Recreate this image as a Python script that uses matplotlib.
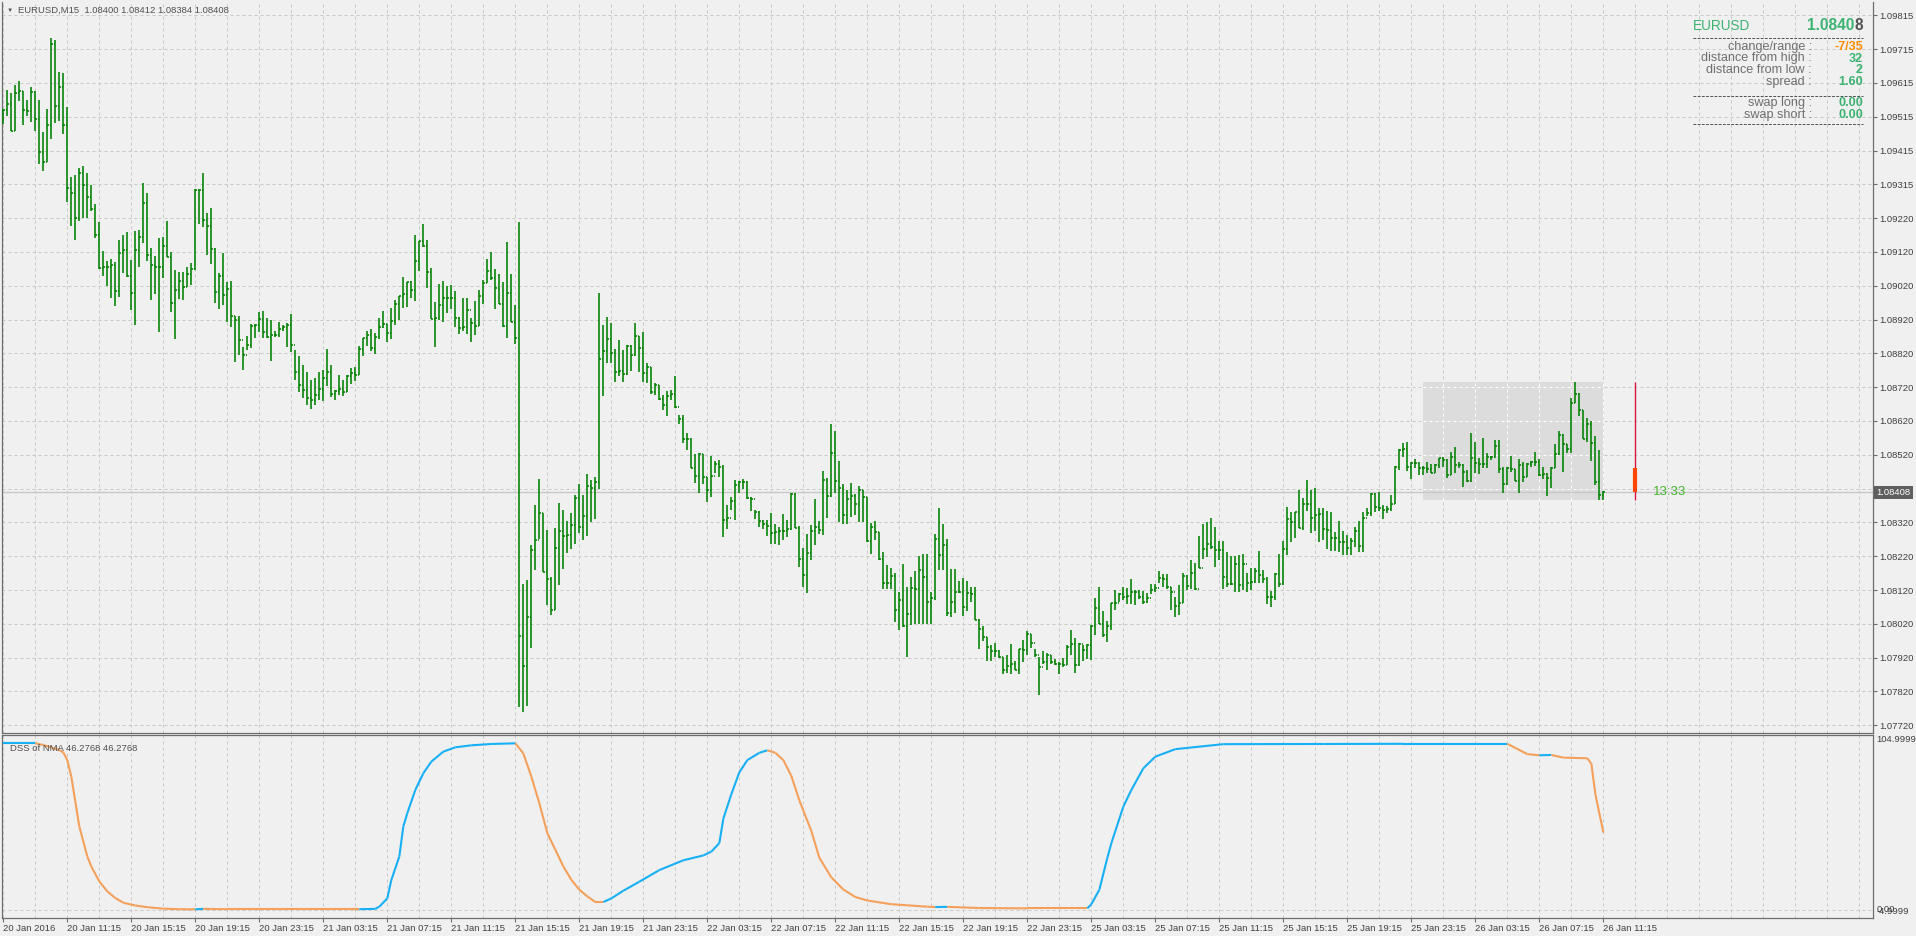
#EURUSD M15 bar chart with a DSS of NMA sub window, MetaTrader style
import matplotlib
matplotlib.use('Agg')
import matplotlib.pyplot as plt
import matplotlib.transforms as mtransforms
from matplotlib.collections import LineCollection
from matplotlib.patches import Rectangle
from matplotlib.lines import Line2D
import numpy as np

plt.rcParams['font.family'] = ['Liberation Sans', 'DejaVu Sans']

#bar highs, lows and closes, one per M15 bar
high = [
    1.09537, 1.09594, 1.09587, 1.09609, 1.09621, 1.09593, 1.09565, 1.09605, 1.09591, 1.09565,
    1.09470, 1.09538, 1.09748, 1.09742, 1.09648, 1.09645, 1.09544, 1.09338, 1.09343, 1.09364,
    1.09370, 1.09349, 1.09314, 1.09259, 1.09205, 1.09119, 1.09091, 1.09095, 1.09086, 1.09151,
    1.09166, 1.09175, 1.09093, 1.09178, 1.09181, 1.09320, 1.09290, 1.09128, 1.09104, 1.09158,
    1.09161, 1.09208, 1.09117, 1.09063, 1.09058, 1.09058, 1.09073, 1.09085, 1.09303, 1.09301,
    1.09349, 1.09233, 1.09246, 1.09127, 1.09056, 1.09114, 1.09029, 1.09030, 1.08928, 1.08928,
    1.08837, 1.08870, 1.08905, 1.08903, 1.08940, 1.08943, 1.08922, 1.08916, 1.08884, 1.08910,
    1.08900, 1.08907, 1.08933, 1.08827, 1.08810, 1.08783, 1.08762, 1.08739, 1.08745, 1.08762,
    1.08769, 1.08830, 1.08783, 1.08709, 1.08754, 1.08738, 1.08754, 1.08775, 1.08777, 1.08840,
    1.08863, 1.08884, 1.08889, 1.08877, 1.08922, 1.08943, 1.08904, 1.08950, 1.08975, 1.08986,
    1.09043, 1.09028, 1.09031, 1.09167, 1.09148, 1.09198, 1.09152, 1.09068, 1.08970, 1.09022,
    1.09031, 1.09017, 1.09019, 1.09001, 1.08924, 1.08981, 1.08981, 1.08921, 1.08971, 1.09004,
    1.09033, 1.09097, 1.09118, 1.09067, 1.09052, 1.09027, 1.09146, 1.09052, 1.08960, 1.09205,
    1.08137, 1.08150, 1.08253, 1.08371, 1.08448, 1.08346, 1.08295, 1.08156, 1.08301, 1.08377,
    1.08354, 1.08323, 1.08347, 1.08398, 1.08432, 1.08399, 1.08462, 1.08444, 1.08453, 1.08996,
    1.08901, 1.08924, 1.08908, 1.08829, 1.08858, 1.08828, 1.08842, 1.08842, 1.08908, 1.08870,
    1.08880, 1.08790, 1.08776, 1.08731, 1.08724, 1.08694, 1.08706, 1.08709, 1.08751, 1.08635,
    1.08635, 1.08581, 1.08569, 1.08520, 1.08522, 1.08520, 1.08453, 1.08514, 1.08500, 1.08502,
    1.08487, 1.08370, 1.08394, 1.08443, 1.08441, 1.08448, 1.08441, 1.08394, 1.08355, 1.08352,
    1.08325, 1.08325, 1.08345, 1.08315, 1.08305, 1.08343, 1.08325, 1.08406, 1.08404, 1.08307,
    1.08244, 1.08284, 1.08310, 1.08387, 1.08322, 1.08471, 1.08450, 1.08610, 1.08588, 1.08500,
    1.08431, 1.08414, 1.08436, 1.08402, 1.08425, 1.08414, 1.08394, 1.08318, 1.08322, 1.08291,
    1.08232, 1.08192, 1.08185, 1.08168, 1.08114, 1.08195, 1.08128, 1.08156, 1.08176, 1.08219,
    1.08225, 1.08225, 1.08112, 1.08283, 1.08360, 1.08313, 1.08269, 1.08181, 1.08180, 1.08145,
    1.08153, 1.08146, 1.08128, 1.08128, 1.08032, 1.08012, 1.07981, 1.07956, 1.07963, 1.07941,
    1.07922, 1.07927, 1.07961, 1.07910, 1.07946, 1.07971, 1.07997, 1.07989, 1.07946, 1.07920,
    1.07938, 1.07933, 1.07927, 1.07914, 1.07907, 1.07917, 1.07956, 1.08000, 1.07976, 1.07963,
    1.07956, 1.07961, 1.08017, 1.08094, 1.08128, 1.08057, 1.08027, 1.08081, 1.08118, 1.08109,
    1.08128, 1.08126, 1.08152, 1.08118, 1.08120, 1.08115, 1.08109, 1.08138, 1.08138, 1.08175,
    1.08165, 1.08165, 1.08128, 1.08099, 1.08133, 1.08168, 1.08163, 1.08209, 1.08199, 1.08278,
    1.08313, 1.08320, 1.08333, 1.08305, 1.08264, 1.08264, 1.08230, 1.08220, 1.08220, 1.08222,
    1.08225, 1.08168, 1.08185, 1.08185, 1.08235, 1.08179, 1.08156, 1.08116, 1.08170, 1.08224,
    1.08264, 1.08363, 1.08350, 1.08350, 1.08414, 1.08390, 1.08444, 1.08414, 1.08419, 1.08360,
    1.08360, 1.08352, 1.08350, 1.08291, 1.08324, 1.08294, 1.08280, 1.08274, 1.08306, 1.08324,
    1.08350, 1.08362, 1.08406, 1.08404, 1.08409, 1.08370, 1.08368, 1.08400, 1.08485, 1.08535,
    1.08552, 1.08557, 1.08498, 1.08505, 1.08498, 1.08486, 1.08498, 1.08492, 1.08491, 1.08508,
    1.08511, 1.08506, 1.08527, 1.08540, 1.08498, 1.08490, 1.08473, 1.08582, 1.08555, 1.08508,
    1.08569, 1.08523, 1.08516, 1.08562, 1.08562, 1.08482, 1.08481, 1.08516, 1.08475, 1.08505,
    1.08498, 1.08495, 1.08500, 1.08525, 1.08506, 1.08481, 1.08464, 1.08481, 1.08549, 1.08587,
    1.08579, 1.08549, 1.08685, 1.08734, 1.08700, 1.08650, 1.08628, 1.08618, 1.08574, 1.08531,
    1.08412]

low = [
    1.09493, 1.09519, 1.09475, 1.09475, 1.09563, 1.09492, 1.09519, 1.09501, 1.09474, 1.09377,
    1.09356, 1.09381, 1.09449, 1.09498, 1.09504, 1.09465, 1.09265, 1.09194, 1.09153, 1.09209,
    1.09218, 1.09217, 1.09237, 1.09158, 1.09065, 1.09046, 1.09017, 1.08981, 1.08958, 1.08984,
    1.09055, 1.09043, 1.08946, 1.08900, 1.09073, 1.09142, 1.09091, 1.08976, 1.08994, 1.08881,
    1.09041, 1.09102, 1.08939, 1.08861, 1.08979, 1.08976, 1.09014, 1.09019, 1.09063, 1.09200,
    1.09191, 1.09107, 1.09082, 1.08967, 1.08949, 1.08959, 1.08910, 1.08896, 1.08792, 1.08813,
    1.08768, 1.08827, 1.08832, 1.08862, 1.08881, 1.08863, 1.08864, 1.08795, 1.08866, 1.08867,
    1.08884, 1.08837, 1.08821, 1.08738, 1.08703, 1.08685, 1.08665, 1.08653, 1.08665, 1.08679,
    1.08676, 1.08721, 1.08688, 1.08679, 1.08694, 1.08693, 1.08702, 1.08726, 1.08737, 1.08753,
    1.08811, 1.08840, 1.08823, 1.08817, 1.08860, 1.08892, 1.08851, 1.08859, 1.08900, 1.08915,
    1.08951, 1.08955, 1.08982, 1.08973, 1.09061, 1.09132, 1.09009, 1.08919, 1.08837, 1.08915,
    1.08911, 1.08938, 1.08947, 1.08894, 1.08875, 1.08883, 1.08874, 1.08850, 1.08873, 1.08897,
    1.08962, 1.09024, 1.09035, 1.08947, 1.08962, 1.08896, 1.08864, 1.08910, 1.08844, 1.07775,
    1.07759, 1.07777, 1.07947, 1.08177, 1.08269, 1.08171, 1.08075, 1.08044, 1.08059, 1.08134,
    1.08181, 1.08228, 1.08240, 1.08254, 1.08286, 1.08266, 1.08278, 1.08319, 1.08330, 1.08417,
    1.08693, 1.08788, 1.08790, 1.08733, 1.08752, 1.08734, 1.08754, 1.08764, 1.08809, 1.08761,
    1.08734, 1.08731, 1.08699, 1.08696, 1.08679, 1.08650, 1.08633, 1.08679, 1.08655, 1.08610,
    1.08553, 1.08532, 1.08478, 1.08435, 1.08406, 1.08431, 1.08379, 1.08394, 1.08463, 1.08453,
    1.08276, 1.08299, 1.08355, 1.08325, 1.08404, 1.08417, 1.08389, 1.08352, 1.08330, 1.08305,
    1.08299, 1.08279, 1.08256, 1.08256, 1.08253, 1.08266, 1.08276, 1.08296, 1.08303, 1.08187,
    1.08128, 1.08111, 1.08207, 1.08251, 1.08284, 1.08281, 1.08332, 1.08394, 1.08406, 1.08320,
    1.08315, 1.08315, 1.08335, 1.08340, 1.08320, 1.08320, 1.08261, 1.08225, 1.08266, 1.08207,
    1.08123, 1.08123, 1.08123, 1.08025, 1.08002, 1.08010, 1.07922, 1.08015, 1.08020, 1.08020,
    1.08020, 1.08020, 1.08020, 1.08089, 1.08178, 1.08179, 1.08042, 1.08038, 1.08050, 1.08109,
    1.08042, 1.08057, 1.08084, 1.08030, 1.07946, 1.07968, 1.07910, 1.07910, 1.07922, 1.07917,
    1.07870, 1.07874, 1.07872, 1.07882, 1.07872, 1.07907, 1.07927, 1.07948, 1.07922, 1.07808,
    1.07900, 1.07882, 1.07902, 1.07897, 1.07872, 1.07892, 1.07897, 1.07927, 1.07874, 1.07894,
    1.07910, 1.07914, 1.07912, 1.07986, 1.08020, 1.07981, 1.07966, 1.08000, 1.08061, 1.08084,
    1.08089, 1.08079, 1.08079, 1.08076, 1.08092, 1.08077, 1.08081, 1.08107, 1.08114, 1.08140,
    1.08128, 1.08123, 1.08059, 1.08038, 1.08045, 1.08082, 1.08118, 1.08121, 1.08118, 1.08183,
    1.08210, 1.08217, 1.08240, 1.08187, 1.08207, 1.08123, 1.08128, 1.08133, 1.08114, 1.08112,
    1.08118, 1.08114, 1.08120, 1.08141, 1.08141, 1.08141, 1.08079, 1.08069, 1.08089, 1.08129,
    1.08134, 1.08223, 1.08262, 1.08272, 1.08301, 1.08296, 1.08353, 1.08288, 1.08293, 1.08262,
    1.08267, 1.08240, 1.08234, 1.08235, 1.08232, 1.08222, 1.08222, 1.08222, 1.08247, 1.08232,
    1.08232, 1.08336, 1.08336, 1.08350, 1.08352, 1.08328, 1.08345, 1.08352, 1.08373, 1.08473,
    1.08512, 1.08470, 1.08447, 1.08478, 1.08459, 1.08459, 1.08463, 1.08464, 1.08464, 1.08478,
    1.08483, 1.08449, 1.08457, 1.08464, 1.08478, 1.08424, 1.08439, 1.08439, 1.08464, 1.08462,
    1.08478, 1.08478, 1.08503, 1.08510, 1.08464, 1.08406, 1.08429, 1.08468, 1.08442, 1.08404,
    1.08439, 1.08454, 1.08483, 1.08486, 1.08456, 1.08447, 1.08397, 1.08419, 1.08478, 1.08518,
    1.08468, 1.08523, 1.08523, 1.08670, 1.08634, 1.08564, 1.08557, 1.08500, 1.08429, 1.08385,
    1.08384]

close = [
    1.09535, 1.09552, 1.09475, 1.09585, 1.09593, 1.09537, 1.09532, 1.09588, 1.09508, 1.09413,
    1.09381, 1.09490, 1.09732, 1.09547, 1.09605, 1.09490, 1.09307, 1.09292, 1.09218, 1.09351,
    1.09313, 1.09280, 1.09245, 1.09168, 1.09068, 1.09071, 1.09073, 1.09078, 1.09003, 1.09115,
    1.09122, 1.09045, 1.08996, 1.09122, 1.09161, 1.09261, 1.09108, 1.09077, 1.09073, 1.09071,
    1.09134, 1.09102, 1.08965, 1.09004, 1.09031, 1.09013, 1.09053, 1.09065, 1.09301, 1.09300,
    1.09211, 1.09194, 1.09125, 1.09000, 1.09047, 1.08991, 1.09006, 1.08928, 1.08916, 1.08857,
    1.08813, 1.08842, 1.08898, 1.08901, 1.08919, 1.08880, 1.08867, 1.08871, 1.08871, 1.08888,
    1.08895, 1.08900, 1.08842, 1.08762, 1.08724, 1.08709, 1.08685, 1.08679, 1.08694, 1.08711,
    1.08744, 1.08762, 1.08698, 1.08706, 1.08712, 1.08703, 1.08751, 1.08759, 1.08754, 1.08830,
    1.08862, 1.08871, 1.08834, 1.08867, 1.08895, 1.08903, 1.08878, 1.08912, 1.08963, 1.08986,
    1.08992, 1.09028, 1.09005, 1.09091, 1.09148, 1.09134, 1.09057, 1.08919, 1.08921, 1.08960,
    1.08982, 1.08981, 1.08980, 1.08922, 1.08892, 1.08895, 1.08945, 1.08908, 1.08898, 1.08988,
    1.09024, 1.09062, 1.09039, 1.09009, 1.08962, 1.08897, 1.08995, 1.08910, 1.08863, 1.07983,
    1.07896, 1.08040, 1.08238, 1.08267, 1.08346, 1.08171, 1.08152, 1.08060, 1.08242, 1.08293,
    1.08279, 1.08281, 1.08312, 1.08390, 1.08306, 1.08338, 1.08427, 1.08419, 1.08438, 1.08802,
    1.08823, 1.08861, 1.08819, 1.08763, 1.08765, 1.08757, 1.08840, 1.08813, 1.08868, 1.08833,
    1.08759, 1.08777, 1.08704, 1.08724, 1.08684, 1.08665, 1.08691, 1.08699, 1.08658, 1.08625,
    1.08565, 1.08565, 1.08478, 1.08456, 1.08520, 1.08453, 1.08414, 1.08455, 1.08490, 1.08483,
    1.08325, 1.08332, 1.08381, 1.08430, 1.08438, 1.08438, 1.08392, 1.08389, 1.08350, 1.08323,
    1.08313, 1.08307, 1.08288, 1.08289, 1.08293, 1.08293, 1.08298, 1.08401, 1.08303, 1.08212,
    1.08162, 1.08227, 1.08293, 1.08305, 1.08296, 1.08443, 1.08396, 1.08524, 1.08440, 1.08419,
    1.08340, 1.08389, 1.08396, 1.08372, 1.08414, 1.08394, 1.08264, 1.08305, 1.08291, 1.08212,
    1.08140, 1.08140, 1.08161, 1.08061, 1.08091, 1.08012, 1.08047, 1.08125, 1.08123, 1.08178,
    1.08158, 1.08084, 1.08096, 1.08271, 1.08222, 1.08253, 1.08052, 1.08084, 1.08112, 1.08112,
    1.08069, 1.08109, 1.08106, 1.08030, 1.08005, 1.07981, 1.07951, 1.07939, 1.07938, 1.07922,
    1.07882, 1.07894, 1.07902, 1.07882, 1.07946, 1.07941, 1.07988, 1.07963, 1.07927, 1.07892,
    1.07907, 1.07927, 1.07907, 1.07902, 1.07902, 1.07899, 1.07951, 1.07961, 1.07899, 1.07959,
    1.07941, 1.07956, 1.08013, 1.08067, 1.08020, 1.07986, 1.08012, 1.08081, 1.08081, 1.08107,
    1.08099, 1.08101, 1.08112, 1.08114, 1.08099, 1.08084, 1.08094, 1.08118, 1.08125, 1.08153,
    1.08152, 1.08128, 1.08112, 1.08071, 1.08081, 1.08160, 1.08131, 1.08168, 1.08123, 1.08184,
    1.08241, 1.08256, 1.08246, 1.08237, 1.08237, 1.08158, 1.08136, 1.08136, 1.08197, 1.08135,
    1.08197, 1.08141, 1.08143, 1.08175, 1.08163, 1.08151, 1.08099, 1.08099, 1.08165, 1.08137,
    1.08241, 1.08330, 1.08321, 1.08350, 1.08301, 1.08373, 1.08373, 1.08333, 1.08341, 1.08342,
    1.08299, 1.08296, 1.08272, 1.08272, 1.08262, 1.08262, 1.08244, 1.08264, 1.08293, 1.08249,
    1.08333, 1.08345, 1.08402, 1.08365, 1.08362, 1.08355, 1.08358, 1.08373, 1.08483, 1.08532,
    1.08535, 1.08481, 1.08493, 1.08493, 1.08480, 1.08478, 1.08477, 1.08465, 1.08488, 1.08508,
    1.08503, 1.08459, 1.08513, 1.08488, 1.08488, 1.08468, 1.08442, 1.08508, 1.08493, 1.08492,
    1.08490, 1.08513, 1.08512, 1.08545, 1.08475, 1.08432, 1.08480, 1.08476, 1.08442, 1.08488,
    1.08454, 1.08490, 1.08498, 1.08496, 1.08459, 1.08462, 1.08449, 1.08480, 1.08520, 1.08577,
    1.08549, 1.08534, 1.08670, 1.08697, 1.08650, 1.08564, 1.08608, 1.08554, 1.08439, 1.08400,
    1.08408]

first_open = 1.09537
day_first_bar = 355      # first bar of 26 Jan

#DSS of NMA, sampled along the bars
dss_bar = [0, 4, 8, 10, 12, 14, 15, 16, 17, 18, 19, 21, 22, 24, 26, 28, 30, 33, 36, 40,
           44, 48, 50, 52, 56, 62, 70, 80, 89, 93, 94, 96, 97, 99, 100, 101, 103, 105, 107, 110,
           113, 117, 122, 128, 130, 132, 134, 136, 138, 140, 142, 144, 146, 148, 150, 152, 155, 159, 164, 170,
           175, 177, 179, 180, 182, 184, 186, 189, 191, 193, 195, 197, 199, 202, 204, 207, 210, 213, 216, 222,
           231, 233, 236, 244, 256, 271, 272, 274, 276, 277, 280, 282, 285, 288, 293, 305, 330, 350, 376, 378,
           381, 384, 387, 390, 396, 397, 398, 400]
dss_val = [100, 100, 100, 99.0, 97.5, 96.0, 94.5, 90, 80, 65, 50, 32, 26, 17, 11, 7, 4.2, 2.5, 1.5, 0.6,
           0.3, 0.2, 0.5, 0.4, 0.3, 0.3, 0.3, 0.3, 0.3, 0.5, 1.8, 6.8, 17.8, 32, 50, 58, 72, 82, 89, 95,
           97.6, 98.8, 99.6, 100, 94, 80, 64, 46, 36, 26, 18, 12, 8, 4.6, 4.6, 6.8, 11.4, 16.8, 23.8, 29.7,
           32.6, 34.9, 40, 54.7, 69.4, 82.6, 89.9, 94.3, 95.8, 94.3, 89.9, 80.4, 65.7, 47.3, 31.2, 19.4, 12.1, 7.6, 5.5, 3.3,
           1.8, 1.6, 1.7, 1.0, 0.8, 0.8, 3.3, 12, 31.2, 40, 62, 72, 85, 92, 96.5, 99.5, 99.6, 99.7, 99.7, 97.2,
           93.5, 92.8, 93.0, 91.4, 91.0, 87.7, 69.4, 46.2768]

price_labels = ['1.09815', '1.09715', '1.09615', '1.09515', '1.09415', '1.09315', '1.09220', '1.09120',
                '1.09020', '1.08920', '1.08820', '1.08720', '1.08620', '1.08520', '1.08420', '1.08320',
                '1.08220', '1.08120', '1.08020', '1.07920', '1.07820', '1.07720']
time_labels = ['20 Jan 2016', '20 Jan 11:15', '20 Jan 15:15', '20 Jan 19:15', '20 Jan 23:15',
               '21 Jan 03:15', '21 Jan 07:15', '21 Jan 11:15', '21 Jan 15:15', '21 Jan 19:15',
               '21 Jan 23:15', '22 Jan 03:15', '22 Jan 07:15', '22 Jan 11:15', '22 Jan 15:15',
               '22 Jan 19:15', '22 Jan 23:15', '25 Jan 03:15', '25 Jan 07:15', '25 Jan 11:15',
               '25 Jan 15:15', '25 Jan 19:15', '25 Jan 23:15', '26 Jan 03:15', '26 Jan 07:15',
               '26 Jan 11:15']

#info panel
info_rows = [('change/range :', '-7/35', '#ff8c00'),
             ('distance from high :', '32', '#3cb371'),
             ('distance from low :', '2', '#3cb371'),
             ('spread :', '1.60', '#3cb371')]
swap_rows = [('swap long :', '0.00', '#3cb371'),
             ('swap short :', '0.00', '#3cb371')]
time_left = '13:33'

BG = '#f0f0f0'
GRID = '#c8c8c8'
BAR = '#008000'
AXC = '#6e6e6e'
TXT = '#404040'
W, H = 1916, 936


def rect(l, t, r, b):
    return [l / W, 1 - b / H, (r - l) / W, (b - t) / H]


def ftext(x, y, s, **kw):
    fig.text(x / W, 1 - y / H, s, **kw)


def fline(x0, x1, y):
    fig.add_artist(Line2D([x0 / W, x1 / W], [1 - y / H, 1 - y / H], transform=fig.transFigure,
                          color='#555555', lw=0.72, ls=(0, (2.8, 1.4))))


fig = plt.figure(figsize=(W / 100, H / 100), dpi=100, facecolor=BG)
ax = fig.add_axes(rect(2, 2, 1873, 733))
ax2 = fig.add_axes(rect(2, 735, 1873, 918))

n = min(len(high), len(low), len(close))
idx = np.arange(n)
hi = np.array(high[:n])
lo = np.array(low[:n])
cl = np.array(close[:n])
op = np.concatenate([[first_open], cl[:-1]])
xmin, xmax = -0.325, 467.4

# ---- price window ----
ax.set_facecolor(BG)
ax.set_xlim(xmin, xmax)
ax.set_ylim(1.07697, 1.098545)
ax.set_axisbelow(True)
ax.set_xticks(np.arange(0, 468, 8))
ax.tick_params(axis='x', length=0, labelbottom=False)
price_ticks = np.linspace(1.09815, 1.07720, len(price_labels))
ax.set_yticks(price_ticks)
ax.set_yticklabels(price_labels)
ax.yaxis.tick_right()
ax.tick_params(axis='y', length=3, width=0.8, color=AXC, pad=1.5, labelsize=6.8, labelcolor=TXT)
ax.grid(True, color=GRID, ls=(0, (3, 3)), lw=0.72)
for s in ['left', 'right', 'bottom']:
    ax.spines[s].set_color(AXC)
    ax.spines[s].set_linewidth(0.9)
ax.spines['top'].set_visible(False)

#todays range box
day_hi = hi[day_first_bar:].max()
day_lo = lo[day_first_bar:].min()
day_open = op[day_first_bar]
ax.add_patch(Rectangle((day_first_bar - 0.1, day_lo), n - 1 - day_first_bar + 0.1, day_hi - day_lo,
                       fc='#dcdcdc', ec='none', zorder=1))
for gx in np.arange(0, 468, 8):
    if day_first_bar <= gx <= n - 1:
        ax.plot([gx, gx], [day_lo, day_hi], color='white', lw=0.72, ls=(0, (3, 3)), zorder=1.5)
for gy in price_ticks:
    if day_lo <= gy <= day_hi:
        ax.plot([day_first_bar - 0.1, n - 1], [gy, gy], color='white', lw=0.72, ls=(0, (3, 3)), zorder=1.5)

#current price line
ax.axhline(cl[-1], color='#c8c8c8', lw=1.0, zorder=1.6)

#bars
ax.vlines(idx, lo, hi, color=BAR, lw=1.15, zorder=3)
ax.hlines(op, idx - 0.45, idx, color=BAR, lw=1.15, zorder=3)
ax.hlines(cl, idx, idx + 0.45, color=BAR, lw=1.15, zorder=3)

#day range marker and time left
mark_x = n - 1 + 8
ax.vlines(mark_x, day_lo, day_hi, color='#dc143c', lw=1.0, zorder=3)
ax.vlines(mark_x, min(day_open, cl[-1]), max(day_open, cl[-1]), color='#ff4500', lw=3.0, zorder=3)
ax.text(mark_x + 4.4, cl[-1], time_left, color='#44b82c', fontsize=9.5, va='center', ha='left', zorder=4)

#price tag on the axis
blend = mtransforms.blended_transform_factory(ax.transAxes, ax.transData)
ax.text(1.0 + 3.5 / 1871, cl[-1], '%.5f' % cl[-1], transform=blend, color='white', fontsize=6.8,
        va='center', ha='left', clip_on=False, zorder=10,
        bbox=dict(boxstyle='square,pad=0.22', fc='#5f5f5f', ec='none'))

# ---- DSS window ----
ax2.set_facecolor(BG)
ax2.set_xlim(xmin, xmax)
ax2.set_ylim(-4.9999, 104.9999)
ax2.set_axisbelow(True)
ax2.set_xticks(np.arange(0, 16 * len(time_labels), 16))
ax2.set_xticklabels(time_labels)
ax2.set_xticks(np.arange(0, 468, 8), minor=True)
ax2.tick_params(axis='x', which='major', length=3, width=0.8, color=AXC, pad=1.5, labelsize=6.8, labelcolor=TXT)
ax2.tick_params(axis='x', which='minor', length=0)
for lbl in ax2.get_xticklabels():
    lbl.set_horizontalalignment('left')
ax2.set_yticks([0])
ax2.tick_params(axis='y', length=0, labelleft=False)
ax2.grid(True, which='both', color=GRID, ls=(0, (3, 3)), lw=0.72)
for s in ax2.spines.values():
    s.set_color(AXC)
    s.set_linewidth(0.9)

pts = np.column_stack([dss_bar, dss_val])
segs = np.stack([pts[:-1], pts[1:]], axis=1)
cols = []
up = True
for a, b in zip(dss_val[:-1], dss_val[1:]):
    if b > a:
        up = True
    elif b < a:
        up = False
    cols.append('#17b0f5' if up else '#f5a05a')
ax2.add_collection(LineCollection(segs, colors=cols, linewidths=1.5, zorder=3))

#level labels, 0.00 sits on top of the minimum as in the terminal
blend2 = mtransforms.blended_transform_factory(ax2.transAxes, ax2.transData)
ax2.text(1.0 + 3.5 / 1871, 104.9999, '104.9999', transform=blend2, color=TXT, fontsize=6.8,
         va='top', ha='left', clip_on=False)
ax2.text(1.0 + 3.5 / 1871, -1.2, '-4.9999', transform=blend2, color=TXT, fontsize=6.8,
         va='center', ha='left', clip_on=False)
ax2.text(1.0 + 3.5 / 1871, 0.3, '0.00', transform=blend2, color=TXT, fontsize=6.8,
         va='center', ha='left', clip_on=False)
ax2.text(0.0045, 0.95, 'DSS of NMA %.4f %.4f' % (dss_val[-1], dss_val[-1]), transform=ax2.transAxes,
         color='#505050', fontsize=6.8, va='top', ha='left')

# ---- titles and info panel ----
ftext(7, 10.5, '\u25bc', color='#505050', fontsize=4.5, va='center', ha='left')
ftext(18, 10.5, 'EURUSD,M15  %.5f %.5f %.5f %.5f' % (op[-1], hi[-1], lo[-1], cl[-1]),
      color='#505050', fontsize=6.8, va='center', ha='left')

ftext(1693, 26, 'EURUSD', color='#3cb371', fontsize=9.8, va='center', ha='left')
last = '%.5f' % cl[-1]
ftext(1854.5, 25.5, last[:-1], color='#3cb371', fontsize=11.2, fontweight='bold', va='center', ha='right')
ftext(1863, 25.5, last[-1], color='#555555', fontsize=11.2, fontweight='bold', va='center', ha='right')
fline(1693, 1863, 37.7)
for k, (lab, val, c) in enumerate(info_rows):
    y = 46.7 + 11.8 * k
    ftext(1812, y, lab, color='#707070', fontsize=9.1, va='center', ha='right')
    ftext(1863, y, val, color=c, fontsize=9.1, fontweight='bold', va='center', ha='right')
fline(1693, 1863, 95.7)
for k, (lab, val, c) in enumerate(swap_rows):
    y = 102.7 + 12 * k
    ftext(1812, y, lab, color='#707070', fontsize=9.1, va='center', ha='right')
    ftext(1863, y, val, color=c, fontsize=9.1, fontweight='bold', va='center', ha='right')
fline(1693, 1863, 124)

fig.savefig('out.png', dpi=100, facecolor=BG)
